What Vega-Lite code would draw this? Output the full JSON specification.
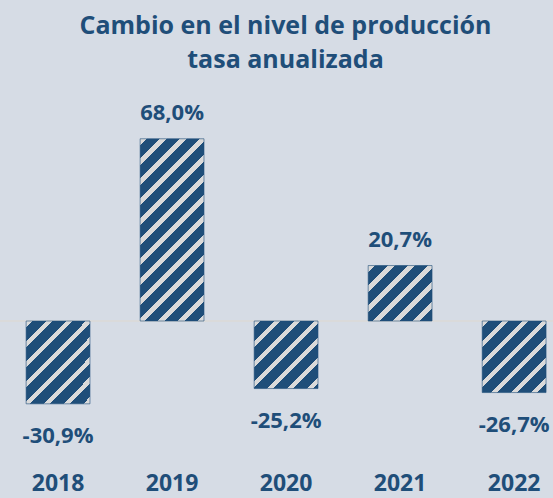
{
  "$schema": "https://vega.github.io/schema/vega-lite/v6.json",
  "width": 553,
  "height": 460,
  "autosize": {"type": "none"},
  "padding": {"top": 0, "left": 0, "right": 0, "bottom": 38},
  "background": "#D6DCE5",
  "config": {
    "view": {"stroke": null},
    "locale": {"number": {"decimal": ",", "thousands": ".", "grouping": [3], "currency": ["", " €"], "minus": "-"}}
  },
  "title": {
    "text": ["Cambio en el nivel de producción", "tasa anualizada"],
    "anchor": "middle",
    "font": "Open Sans",
    "fontSize": 25,
    "fontWeight": "bold",
    "color": "#1F4E79",
    "lineHeight": 34,
    "baseline": "alphabetic",
    "offset": 0,
    "dy": 93,
    "dx": 9
  },
  "data": {
    "values": [
      {"year": "2018", "v": -0.309},
      {"year": "2019", "v": 0.68},
      {"year": "2020", "v": -0.252},
      {"year": "2021", "v": 0.207},
      {"year": "2022", "v": -0.267}
    ]
  },
  "layer": [
    {
      "mark": {"type": "rule", "color": "#DADADA", "strokeWidth": 1.5},
      "encoding": {"y": {"datum": 0, "type": "quantitative", "scale": {"domain": [-0.5186, 1.1978], "nice": false}, "axis": null}}
    },
    {
      "mark": {"type": "bar", "stroke": "#1F4E79", "strokeWidth": 0.6},
      "encoding": {
        "x": {"field": "year", "type": "nominal", "scale": {"paddingInner": 0.44, "paddingOuter": 0.145, "align": 0.79},
          "axis": {"title": null, "domain": false, "ticks": false, "tickSize": 0, "labelPadding": 30, "labelFont": "Open Sans", "labelFontSize": 23, "labelFontWeight": "bold", "labelColor": "#1F4E79", "labelBaseline": "alphabetic", "labelAngle": 0, "grid": false}},
        "y": {"field": "v", "type": "quantitative", "scale": {"domain": [-0.5186, 1.1978], "nice": false}, "axis": null},
        "fill": {
          "condition": [
            {"test": "datum.year == '2018'", "value": {"gradient": "linear", "x1": 0, "y1": 0, "x2": 0.8578, "y2": 1.1098, "stops": [
              {"offset": 0, "color": "#DADADA"}, {"offset": 0.045, "color": "#DADADA"}, {"offset": 0.045, "color": "#1F4E79"},
              {"offset": 0.1362, "color": "#1F4E79"}, {"offset": 0.1362, "color": "#DADADA"}, {"offset": 0.1812, "color": "#DADADA"}, {"offset": 0.1812, "color": "#1F4E79"},
              {"offset": 0.2725, "color": "#1F4E79"}, {"offset": 0.2725, "color": "#DADADA"}, {"offset": 0.3174, "color": "#DADADA"}, {"offset": 0.3174, "color": "#1F4E79"},
              {"offset": 0.4087, "color": "#1F4E79"}, {"offset": 0.4087, "color": "#DADADA"}, {"offset": 0.4537, "color": "#DADADA"}, {"offset": 0.4537, "color": "#1F4E79"},
              {"offset": 0.545, "color": "#1F4E79"}, {"offset": 0.545, "color": "#DADADA"}, {"offset": 0.5899, "color": "#DADADA"}, {"offset": 0.5899, "color": "#1F4E79"},
              {"offset": 0.6812, "color": "#1F4E79"}, {"offset": 0.6812, "color": "#DADADA"}, {"offset": 0.7262, "color": "#DADADA"}, {"offset": 0.7262, "color": "#1F4E79"},
              {"offset": 0.8174, "color": "#1F4E79"}, {"offset": 0.8174, "color": "#DADADA"}, {"offset": 0.8624, "color": "#DADADA"}, {"offset": 0.8624, "color": "#1F4E79"},
              {"offset": 0.9537, "color": "#1F4E79"}, {"offset": 0.9537, "color": "#DADADA"}, {"offset": 0.9986, "color": "#DADADA"}, {"offset": 0.9986, "color": "#1F4E79"},
              {"offset": 1, "color": "#1F4E79"}]}},
            {"test": "datum.year == '2019'", "value": {"gradient": "linear", "x1": 0, "y1": 0, "x2": 0.4225, "y2": 1.2029, "stops": [
              {"offset": 0, "color": "#DADADA"}, {"offset": 0.0268, "color": "#DADADA"}, {"offset": 0.0268, "color": "#1F4E79"},
              {"offset": 0.0812, "color": "#1F4E79"}, {"offset": 0.0812, "color": "#DADADA"}, {"offset": 0.108, "color": "#DADADA"}, {"offset": 0.108, "color": "#1F4E79"},
              {"offset": 0.1625, "color": "#1F4E79"}, {"offset": 0.1625, "color": "#DADADA"}, {"offset": 0.1893, "color": "#DADADA"}, {"offset": 0.1893, "color": "#1F4E79"},
              {"offset": 0.2437, "color": "#1F4E79"}, {"offset": 0.2437, "color": "#DADADA"}, {"offset": 0.2705, "color": "#DADADA"}, {"offset": 0.2705, "color": "#1F4E79"},
              {"offset": 0.3249, "color": "#1F4E79"}, {"offset": 0.3249, "color": "#DADADA"}, {"offset": 0.3517, "color": "#DADADA"}, {"offset": 0.3517, "color": "#1F4E79"},
              {"offset": 0.4062, "color": "#1F4E79"}, {"offset": 0.4062, "color": "#DADADA"}, {"offset": 0.433, "color": "#DADADA"}, {"offset": 0.433, "color": "#1F4E79"},
              {"offset": 0.4874, "color": "#1F4E79"}, {"offset": 0.4874, "color": "#DADADA"}, {"offset": 0.5142, "color": "#DADADA"}, {"offset": 0.5142, "color": "#1F4E79"},
              {"offset": 0.5686, "color": "#1F4E79"}, {"offset": 0.5686, "color": "#DADADA"}, {"offset": 0.5954, "color": "#DADADA"}, {"offset": 0.5954, "color": "#1F4E79"},
              {"offset": 0.6498, "color": "#1F4E79"}, {"offset": 0.6498, "color": "#DADADA"}, {"offset": 0.6767, "color": "#DADADA"}, {"offset": 0.6767, "color": "#1F4E79"},
              {"offset": 0.7311, "color": "#1F4E79"}, {"offset": 0.7311, "color": "#DADADA"}, {"offset": 0.7579, "color": "#DADADA"}, {"offset": 0.7579, "color": "#1F4E79"},
              {"offset": 0.8123, "color": "#1F4E79"}, {"offset": 0.8123, "color": "#DADADA"}, {"offset": 0.8391, "color": "#DADADA"}, {"offset": 0.8391, "color": "#1F4E79"},
              {"offset": 0.8935, "color": "#1F4E79"}, {"offset": 0.8935, "color": "#DADADA"}, {"offset": 0.9203, "color": "#DADADA"}, {"offset": 0.9203, "color": "#1F4E79"},
              {"offset": 0.9748, "color": "#1F4E79"}, {"offset": 0.9748, "color": "#DADADA"}, {"offset": 1, "color": "#DADADA"}]}},
            {"test": "datum.year == '2020'", "value": {"gradient": "linear", "x1": 0, "y1": 0, "x2": 0.9727, "y2": 1.0259, "stops": [
              {"offset": 0, "color": "#DADADA"}, {"offset": 0.0502, "color": "#DADADA"}, {"offset": 0.0502, "color": "#1F4E79"},
              {"offset": 0.1521, "color": "#1F4E79"}, {"offset": 0.1521, "color": "#DADADA"}, {"offset": 0.2023, "color": "#DADADA"}, {"offset": 0.2023, "color": "#1F4E79"},
              {"offset": 0.3042, "color": "#1F4E79"}, {"offset": 0.3042, "color": "#DADADA"}, {"offset": 0.3544, "color": "#DADADA"}, {"offset": 0.3544, "color": "#1F4E79"},
              {"offset": 0.4563, "color": "#1F4E79"}, {"offset": 0.4563, "color": "#DADADA"}, {"offset": 0.5065, "color": "#DADADA"}, {"offset": 0.5065, "color": "#1F4E79"},
              {"offset": 0.6084, "color": "#1F4E79"}, {"offset": 0.6084, "color": "#DADADA"}, {"offset": 0.6586, "color": "#DADADA"}, {"offset": 0.6586, "color": "#1F4E79"},
              {"offset": 0.7605, "color": "#1F4E79"}, {"offset": 0.7605, "color": "#DADADA"}, {"offset": 0.8107, "color": "#DADADA"}, {"offset": 0.8107, "color": "#1F4E79"},
              {"offset": 0.9125, "color": "#1F4E79"}, {"offset": 0.9125, "color": "#DADADA"}, {"offset": 0.9627, "color": "#DADADA"}, {"offset": 0.9627, "color": "#1F4E79"},
              {"offset": 1, "color": "#1F4E79"}]}},
            {"test": "datum.year == '2021'", "value": {"gradient": "linear", "x1": 0, "y1": 0, "x2": 1.0658, "y2": 0.9242, "stops": [
              {"offset": 0, "color": "#DADADA"}, {"offset": 0.0552, "color": "#DADADA"}, {"offset": 0.0552, "color": "#1F4E79"},
              {"offset": 0.1674, "color": "#1F4E79"}, {"offset": 0.1674, "color": "#DADADA"}, {"offset": 0.2226, "color": "#DADADA"}, {"offset": 0.2226, "color": "#1F4E79"},
              {"offset": 0.3347, "color": "#1F4E79"}, {"offset": 0.3347, "color": "#DADADA"}, {"offset": 0.3899, "color": "#DADADA"}, {"offset": 0.3899, "color": "#1F4E79"},
              {"offset": 0.5021, "color": "#1F4E79"}, {"offset": 0.5021, "color": "#DADADA"}, {"offset": 0.5573, "color": "#DADADA"}, {"offset": 0.5573, "color": "#1F4E79"},
              {"offset": 0.6694, "color": "#1F4E79"}, {"offset": 0.6694, "color": "#DADADA"}, {"offset": 0.7246, "color": "#DADADA"}, {"offset": 0.7246, "color": "#1F4E79"},
              {"offset": 0.8368, "color": "#1F4E79"}, {"offset": 0.8368, "color": "#DADADA"}, {"offset": 0.892, "color": "#DADADA"}, {"offset": 0.892, "color": "#1F4E79"},
              {"offset": 1, "color": "#1F4E79"}]}}
          ],
          "value": {"gradient": "linear", "x1": 0, "y1": 0, "x2": 0.941, "y2": 1.0527, "stops": [
              {"offset": 0, "color": "#DADADA"}, {"offset": 0.0487, "color": "#DADADA"}, {"offset": 0.0487, "color": "#1F4E79"},
              {"offset": 0.1475, "color": "#1F4E79"}, {"offset": 0.1475, "color": "#DADADA"}, {"offset": 0.1962, "color": "#DADADA"}, {"offset": 0.1962, "color": "#1F4E79"},
              {"offset": 0.295, "color": "#1F4E79"}, {"offset": 0.295, "color": "#DADADA"}, {"offset": 0.3437, "color": "#DADADA"}, {"offset": 0.3437, "color": "#1F4E79"},
              {"offset": 0.4425, "color": "#1F4E79"}, {"offset": 0.4425, "color": "#DADADA"}, {"offset": 0.4912, "color": "#DADADA"}, {"offset": 0.4912, "color": "#1F4E79"},
              {"offset": 0.59, "color": "#1F4E79"}, {"offset": 0.59, "color": "#DADADA"}, {"offset": 0.6386, "color": "#DADADA"}, {"offset": 0.6386, "color": "#1F4E79"},
              {"offset": 0.7375, "color": "#1F4E79"}, {"offset": 0.7375, "color": "#DADADA"}, {"offset": 0.7861, "color": "#DADADA"}, {"offset": 0.7861, "color": "#1F4E79"},
              {"offset": 0.8849, "color": "#1F4E79"}, {"offset": 0.8849, "color": "#DADADA"}, {"offset": 0.9336, "color": "#DADADA"}, {"offset": 0.9336, "color": "#1F4E79"},
              {"offset": 1, "color": "#1F4E79"}]}
        }
      }
    },
    {
      "transform": [{"filter": "datum.v >= 0"}],
      "mark": {"type": "text", "font": "Open Sans", "fontSize": 22, "fontWeight": "bold", "color": "#1F4E79", "baseline": "alphabetic", "dy": -19},
      "encoding": {
        "x": {"field": "year", "type": "nominal"},
        "y": {"field": "v", "type": "quantitative"},
        "text": {"field": "v", "type": "quantitative", "format": ".1%"}
      }
    },
    {
      "transform": [{"filter": "datum.v < 0"}],
      "mark": {"type": "text", "font": "Open Sans", "fontSize": 22, "fontWeight": "bold", "color": "#1F4E79", "baseline": "alphabetic", "dy": 39},
      "encoding": {
        "x": {"field": "year", "type": "nominal"},
        "y": {"field": "v", "type": "quantitative"},
        "text": {"field": "v", "type": "quantitative", "format": ".1%"}
      }
    }
  ]
}
